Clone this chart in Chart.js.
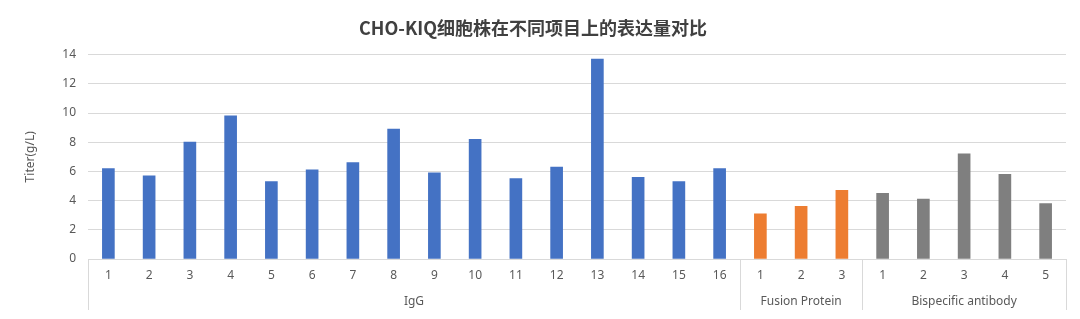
<!DOCTYPE html>
<html>
<head>
<meta charset="utf-8">
<script src="https://cdn.jsdelivr.net/npm/chart.js@4.4.1/dist/chart.umd.min.js"></script>
<style>
  html, body { margin: 0; padding: 0; background: #fff; }
  #wrap { width: 1080px; height: 319px; }
</style>
</head>
<body>
<div id="wrap"><canvas id="chart"></canvas></div>
<script>
// values
const groups = ['IgG', 'Fusion Protein', 'Bispecific antibody'];
const igg = [6.2, 5.7, 8.0, 9.8, 5.3, 6.1, 6.6, 8.9, 5.9, 8.2, 5.5, 6.3, 13.7, 5.6, 5.3, 6.2];
const fusion = [3.1, 3.6, 4.7];
const bispecific = [4.5, 4.1, 7.2, 5.8, 3.8];
const groupColors = ['#4472C4', '#ED7D31', '#7F7F7F'];
const yTicks = [0, 2, 4, 6, 8, 10, 12, 14];

const series = [igg, fusion, bispecific];
const labels = [];
const values = [];
const colors = [];
series.forEach((arr, g) => {
  arr.forEach((v, i) => {
    labels.push(String(i + 1));
    values.push(v);
    colors.push(groupColors[g]);
  });
});

const FONT = "'Noto Sans', 'Noto Sans CJK SC', sans-serif";

// second level of the category axis: group names + separators
const groupAxis = {
  id: 'groupAxis',
  afterDraw(chart) {
    const ctx = chart.ctx;
    const x = chart.scales.x;
    const area = chart.chartArea;
    const bottom = 310;
    let start = 0;
    const edges = [area.left];
    const centers = [];
    series.forEach((arr) => {
      const end = start + arr.length;
      const right = end < labels.length
        ? (x.getPixelForTick(end - 1) + x.getPixelForTick(end)) / 2
        : area.right;
      centers.push((edges[edges.length - 1] + right) / 2);
      edges.push(right);
      start = end;
    });
    ctx.save();
    ctx.strokeStyle = '#d9d9d9';
    ctx.lineWidth = 1;
    edges.forEach((ex) => {
      const px = Math.round(ex) + 0.5;
      ctx.beginPath();
      ctx.moveTo(px, area.bottom);
      ctx.lineTo(px, bottom);
      ctx.stroke();
    });
    ctx.fillStyle = '#595959';
    ctx.font = '12px ' + FONT;
    ctx.textAlign = 'center';
    ctx.textBaseline = 'middle';
    groups.forEach((name, i) => ctx.fillText(name, centers[i], 302));
    ctx.restore();
  }
};

new Chart(document.getElementById('chart'), {
  type: 'bar',
  data: {
    labels: labels,
    datasets: [{
      label: 'Titer',
      data: values,
      backgroundColor: colors,
      barThickness: 12
    }]
  },
  options: {
    responsive: true,
    maintainAspectRatio: false,
    animation: false,
    layout: { padding: { left: 0, right: 14, top: 0, bottom: 0 } },
    plugins: {
      legend: { display: false },
      tooltip: { enabled: false },
      title: {
        display: true,
        text: 'CHO-KIQ细胞株在不同项目上的表达量对比',
        color: '#404040',
        font: { family: "'Noto Sans CJK SC', sans-serif", size: 18, weight: 'bold' },
        padding: { top: 17, bottom: 16 }
      }
    },
    scales: {
      x: {
        grid: { display: false, drawTicks: false },
        border: { display: true, color: '#d9d9d9' },
        ticks: {
          color: '#595959',
          font: { family: FONT, size: 12 },
          padding: 9,
          autoSkip: false,
          maxRotation: 0
        },
        afterFit(scale) { scale.height = 60; }
      },
      y: {
        min: 0,
        max: 14,
        afterBuildTicks(scale) { scale.ticks = yTicks.map(v => ({ value: v })); },
        grid: { color: '#d9d9d9', drawTicks: false },
        border: { display: false },
        ticks: {
          color: '#595959',
          font: { family: FONT, size: 12 },
          padding: 12
        },
        title: {
          display: true,
          text: 'Titer(g/L)',
          color: '#595959',
          font: { family: FONT, size: 12 },
          padding: { top: 23, bottom: 0 }
        },
        afterFit(scale) { scale.width = 88; }
      }
    }
  },
  plugins: [groupAxis]
});
</script>
</body>
</html>
